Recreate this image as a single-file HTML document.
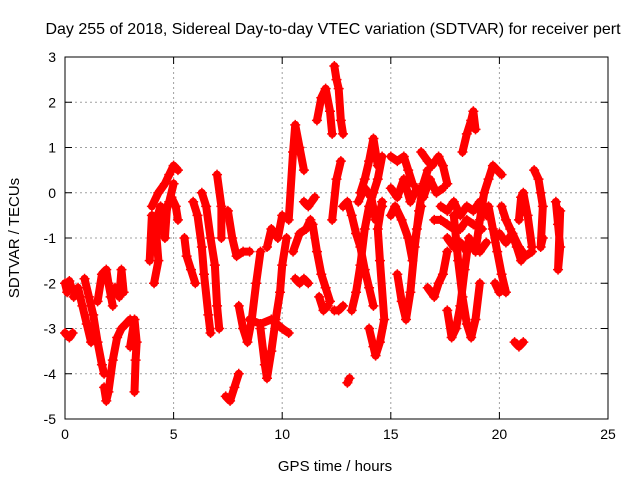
<!DOCTYPE html>
<html><head><meta charset="utf-8"><style>
body{margin:0;background:#fff}
svg{display:block;font-family:"Liberation Sans",sans-serif}
</style></head><body>
<svg id="chart" width="640" height="480">
<text x="333" y="34" font-size="16" text-anchor="middle">Day 255 of 2018, Sidereal Day-to-day VTEC variation (SDTVAR) for receiver pert</text>
<g id="grid"></g>
<g id="axes"></g>
<g id="marks"></g>
<text x="335" y="471" font-size="15" text-anchor="middle">GPS time / hours</text>
<text transform="translate(19,238) rotate(-90)" font-size="15" text-anchor="middle">SDTVAR / TECUs</text>
</svg>
<script>
const xTicks=[0,5,10,15,20,25];
const yTicks=[3,2,1,0,-1,-2,-3,-4,-5];
const tracks=[
[[0,-2.0],[0.1,-2.2],[0.2,-1.95],[0.3,-2.1]],
[[0,-3.1],[0.2,-3.2],[0.35,-3.1]],
[[0.4,-2.3],[0.6,-2.1],[0.8,-2.5],[1.0,-2.9],[1.2,-3.3]],
[[0.9,-1.9],[1.1,-2.3],[1.3,-2.7],[1.5,-3.3],[1.7,-3.8],[1.8,-4.0]],
[[1.5,-2.4],[1.7,-1.8],[1.9,-1.7],[2.0,-2.0],[2.2,-2.5]],
[[1.8,-4.3],[1.9,-4.6],[2.0,-4.4],[2.2,-3.7],[2.4,-3.2],[2.6,-3.0],[2.8,-2.9],[3.0,-2.8]],
[[2.1,-2.3],[2.3,-2.1],[2.5,-2.3],[2.6,-1.7],[2.7,-2.2]],
[[3.0,-3.4],[3.2,-2.8],[3.3,-3.3],[3.25,-3.7],[3.2,-4.4]],
[[3.9,-1.5],[4.0,-0.5],[4.2,-0.9],[4.3,-1.5],[4.1,-2.0]],
[[4.0,-0.3],[4.3,0.0],[4.6,0.2],[4.8,0.4],[5.0,0.6],[5.2,0.5]],
[[4.4,-0.6],[4.6,-1.0],[4.7,-0.3],[4.9,-0.1],[5.1,-0.3],[5.2,-0.6]],
[[4.0,-1.0],[4.2,-0.6],[4.4,-0.3],[4.6,-0.5],[4.8,-0.2],[5.0,0.2]],
[[5.5,-1.0],[5.6,-1.4],[5.8,-1.7],[6.0,-2.0]],
[[5.9,-0.2],[6.1,-0.5],[6.3,-1.2],[6.4,-1.8],[6.6,-2.7],[6.7,-3.1]],
[[6.3,0.0],[6.5,-0.3],[6.7,-1.0],[6.9,-1.6],[7.0,-2.5],[7.1,-3.0]],
[[7.0,0.4],[7.2,-0.3],[7.2,-1.0]],
[[7.4,-4.5],[7.6,-4.6],[7.8,-4.3],[8.0,-4.0]],
[[7.5,-0.4],[7.7,-1.0],[7.9,-1.4],[8.2,-1.3],[8.5,-1.3]],
[[8.0,-2.5],[8.2,-3.0],[8.4,-3.3],[8.6,-2.8],[8.8,-2.0],[9.0,-1.3]],
[[9.0,-3.0],[9.2,-3.8],[9.3,-4.1],[9.5,-3.5],[9.7,-2.8],[9.9,-2.2],[10.0,-1.6],[10.2,-1.0]],
[[8.5,-2.8],[9.0,-2.9],[9.5,-2.8],[10.0,-3.0],[10.3,-3.1]],
[[9.3,-1.2],[9.5,-0.8],[9.8,-1.0],[10.0,-0.5]],
[[10.3,-0.6],[10.5,0.9],[10.6,1.5],[10.8,1.0],[11.0,0.5]],
[[10.6,-1.9],[10.8,-2.0],[11.0,-1.9],[11.2,-2.0]],
[[10.5,-1.3],[10.8,-0.9],[11.1,-0.8],[11.3,-0.6]],
[[11.0,-0.2],[11.2,-0.3],[11.5,-0.1]],
[[11.6,1.6],[11.8,2.1],[12.0,2.3],[12.2,1.8],[12.3,1.3]],
[[11.4,-0.7],[11.6,-1.3],[11.8,-1.8],[12.0,-2.1],[12.2,-2.4]],
[[11.7,-2.3],[11.9,-2.6],[12.1,-2.5]],
[[12.3,-0.6],[12.5,0.3],[12.7,0.7]],
[[12.4,2.8],[12.5,2.5],[12.6,2.3],[12.7,1.6],[12.8,1.3]],
[[12.4,-2.6],[12.6,-2.6],[12.8,-2.5]],
[[13.0,-4.2],[13.1,-4.1]],
[[12.8,-0.3],[13.0,-0.2],[13.2,-0.5],[13.4,-0.9],[13.6,-1.2],[13.8,-1.7],[14.0,-2.1],[14.2,-2.5]],
[[13.2,-2.6],[13.4,-2.2],[13.6,-1.6],[13.8,-0.8],[14.0,-0.3],[14.2,0.0],[14.4,0.3],[14.6,0.8]],
[[13.6,0.0],[13.8,0.3],[14.0,0.7],[14.2,1.2],[14.4,0.6]],
[[13.5,-0.2],[13.8,0.1],[14.1,-0.1],[14.3,-0.6],[14.6,-0.3]],
[[14.0,-3.0],[14.2,-3.4],[14.3,-3.6],[14.5,-3.3],[14.7,-2.8],[14.5,-1.5],[14.4,-0.8],[14.6,-0.2]],
[[15.0,0.8],[15.3,0.7],[15.6,0.8],[15.8,0.5],[16.0,0.2]],
[[15.0,-0.5],[15.2,-0.3],[15.5,-0.6],[15.8,-1.0],[16.0,-1.5],[16.2,-0.8],[16.4,-0.3]],
[[15.0,0.1],[15.3,-0.1],[15.6,0.3],[15.9,-0.2],[16.2,0.1],[16.5,-0.1],[16.8,0.3],[17.1,0.0],[17.4,0.1]],
[[15.3,-1.8],[15.5,-2.4],[15.7,-2.8],[15.9,-2.2],[16.1,-1.2],[16.3,-0.4],[16.5,0.2],[16.7,0.5]],
[[16.4,0.9],[16.7,0.7],[16.9,0.6],[17.2,0.8],[17.4,0.6],[17.6,0.2]],
[[16.7,-2.1],[17.0,-2.3],[17.2,-2.0],[17.4,-1.8],[17.6,-1.3]],
[[17.0,-0.6],[17.3,-0.6],[17.6,-0.7],[17.9,-0.8],[18.2,-0.8],[18.5,-0.6],[18.8,-0.7],[19.2,-0.8]],
[[17.3,-0.3],[17.6,-0.4],[17.9,-0.2],[18.2,-0.5],[18.5,-0.3],[18.8,-0.4],[19.1,-0.2],[19.4,-0.5]],
[[17.6,-1.0],[17.9,-1.2],[18.2,-1.1],[18.5,-1.3],[18.8,-1.1],[19.1,-1.3],[19.4,-1.1]],
[[17.6,-2.6],[17.8,-3.2],[18.0,-3.0],[18.2,-2.5],[18.4,-1.7],[18.6,-1.0]],
[[17.9,-0.5],[18.1,-1.5],[18.3,-2.3],[18.5,-2.9],[18.7,-3.2],[18.9,-2.8],[19.1,-2.0]],
[[18.3,0.9],[18.5,1.3],[18.7,1.6],[18.8,1.8],[18.9,1.4]],
[[18.9,-1.3],[19.1,-0.6],[19.3,0.0],[19.5,0.3],[19.7,0.6],[19.9,0.5],[20.1,0.4]],
[[19.5,-0.3],[19.7,-0.8],[19.9,-1.3],[20.1,-1.8],[20.3,-2.2]],
[[19.8,-2.0],[20.0,-2.2],[20.2,-2.1]],
[[20.1,-0.3],[20.3,-0.6],[20.5,-0.8],[20.8,-1.2],[21.0,-1.5]],
[[20.0,-0.9],[20.3,-1.1],[20.6,-0.9],[20.9,-1.2],[21.2,-1.4],[21.5,-1.3]],
[[20.7,-3.3],[20.9,-3.4],[21.1,-3.3]],
[[20.9,-0.6],[21.0,-0.1],[21.1,0.0],[21.3,-0.5],[21.5,-1.2]],
[[21.6,0.5],[21.8,0.3],[21.9,0.0],[22.0,-0.3],[21.9,-1.2],[22.0,-1.0]],
[[22.6,-0.2],[22.7,-0.7],[22.8,-1.2],[22.7,-1.7],[22.8,-0.4]]
];
const X0=65,X1=608,Y0=57,Y1=419;
function sx(v){return X0+(v-0)/25*(X1-X0);}
function sy(v){return Y0+(3-v)/8*(Y1-Y0);}
const NS='http://www.w3.org/2000/svg';
function mk(t,a,p){const e=document.createElementNS(NS,t);for(const k in a)e.setAttribute(k,a[k]);p.appendChild(e);return e;}
const grid=document.getElementById('grid'),axes=document.getElementById('axes'),marks=document.getElementById('marks');
xTicks.forEach(t=>{
  const x=sx(t);
  if(t>0&&t<25){const g=mk('line',{x1:x,x2:x,y1:Y0,y2:Y1,stroke:'#a0a0a0','stroke-dasharray':'2,3'},grid);
  
  }
  mk('line',{x1:x,x2:x,y1:Y1,y2:Y1-7,stroke:'#000'},axes);
  mk('line',{x1:x,x2:x,y1:Y0,y2:Y0+7,stroke:'#000'},axes);
  const l=mk('text',{x:x,y:Y1+20,'font-size':14,'text-anchor':'middle'},axes);l.textContent=t;
  
  
});
yTicks.forEach(t=>{
  const y=sy(t);
  if(t<3&&t>-5){const g=mk('line',{x1:X0,x2:X1,y1:y,y2:y,stroke:'#a0a0a0','stroke-dasharray':'2,3'},grid);
  
  }
  mk('line',{x1:X0,x2:X0+7,y1:y,y2:y,stroke:'#000'},axes);
  mk('line',{x1:X1,x2:X1-7,y1:y,y2:y,stroke:'#000'},axes);
  const l=mk('text',{x:X0-9,y:y+5,'font-size':14,'text-anchor':'end'},axes);l.textContent=t;
  
  
});
const fr=mk('rect',{x:X0,y:Y0,width:X1-X0,height:Y1-Y0,fill:'none',stroke:'#000'},axes);


tracks.forEach(tr=>{
  const g=mk('g',{},marks);
  
  
  mk('polyline',{points:tr.map(p=>sx(p[0])+','+sy(p[1])).join(' '),fill:'none',stroke:'#ff0000','stroke-width':8,'stroke-linejoin':'round','stroke-linecap':'round'},g);
  tr.forEach(p=>{
    const x=sx(p[0]),y=sy(p[1]);
    mk('path',{d:`M${x-5} ${y}H${x+5}M${x} ${y-5}V${y+5}`,stroke:'#ff0000','stroke-width':1.5},g);
  });
});
</script>
</body></html>
